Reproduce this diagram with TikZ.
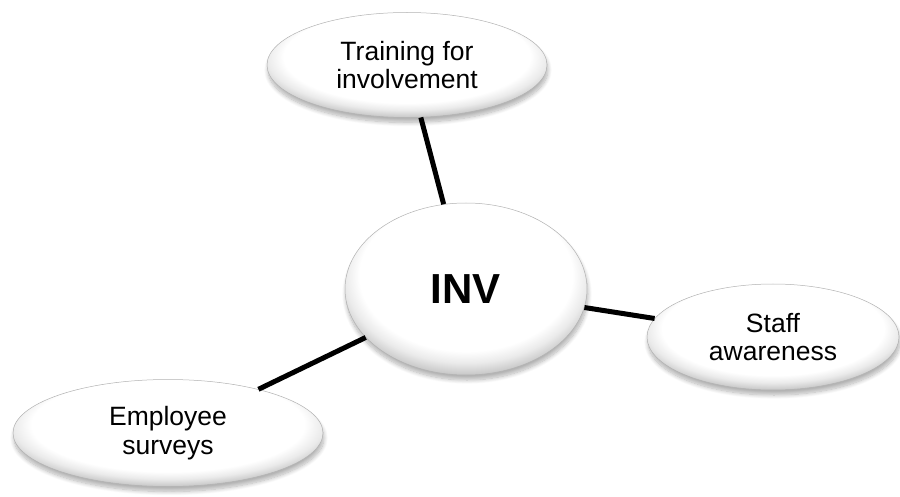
\documentclass[tikz,border=0pt]{standalone}
\usepackage{fontspec}
\setmainfont{Liberation Sans}
\usetikzlibrary{shapes.geometric,shadows.blur}
% soft rim shading for the bubbles: white core, faint grey toward the lower edge
\pgfdeclareradialshading{bubblerim}{\pgfpoint{0bp}{7bp}}{%
  color(0bp)=(white); color(22bp)=(white); color(25bp)=(black!8);
  color(28bp)=(black!22); color(50bp)=(black!22)}
\tikzset{
  bubble/.style={ellipse, draw=black!30, line width=0.5pt, shading=bubblerim,
    inner sep=0pt, align=center, font=\fontsize{26.5}{28.5}\selectfont,
    blur shadow={shadow xshift=1pt, shadow yshift=-5pt, shadow opacity=30,
      shadow blur radius=4pt, shadow blur steps=10}},
  link/.style={line width=5pt, black}
}
\begin{document}
\begin{tikzpicture}[x=1pt,y=-1pt]
  \useasboundingbox (0,0) rectangle (900,497);
  \node[bubble, minimum width=280pt, minimum height=105pt] (train) at (407,65)
    {Training for\\involvement};
  \node[bubble, minimum width=242pt, minimum height=172pt,
    font=\fontsize{42}{48}\selectfont\bfseries] (inv) at (466,289) {INV};
  \node[bubble, minimum width=252pt, minimum height=106pt] (staff) at (773,337)
    {Staff\\awareness};
  \node[bubble, minimum width=310pt, minimum height=107pt] (survey) at (168,433)
    {Employee\\surveys};
  \draw[link] (inv) -- (train);
  \draw[link] (inv) -- (staff);
  \draw[link] (inv) -- (survey);
\end{tikzpicture}
\end{document}
